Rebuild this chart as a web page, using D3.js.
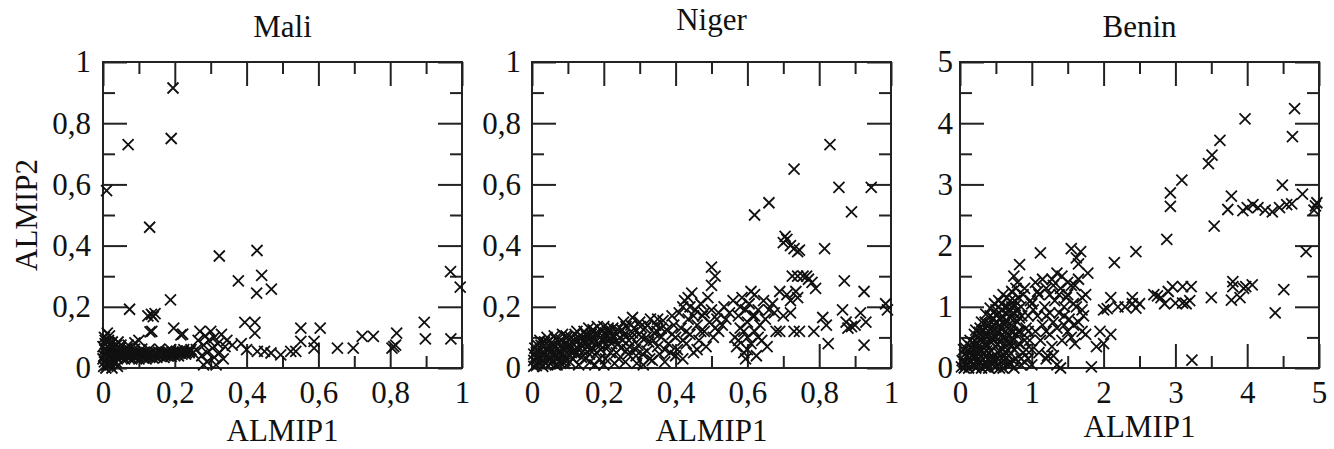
<!DOCTYPE html>
<html>
<head>
<meta charset="utf-8">
<script src="https://cdn.jsdelivr.net/npm/d3@7"></script>
<style>
  body { margin: 0; background: #fff; }
  svg text { font-family: "Liberation Serif", "DejaVu Serif", "Times New Roman", Times, serif; fill: #111; }
</style>
</head>
<body>
<div id="chart"></div>
<script>
// panel titles and axis labels
const titles = ["Mali", "Niger", "Benin"];
const xLabel = "ALMIP1";
const yLabel = "ALMIP2";

// tick values
const unitTicks = [0, 0.2, 0.4, 0.6, 0.8, 1];
const unitMinor = [0.1, 0.3, 0.5, 0.7, 0.9];
const beninTicks = [0, 1, 2, 3, 4, 5];
const beninMinor = [0.5, 1.5, 2.5, 3.5, 4.5];

// Mali points [ALMIP1, ALMIP2]
const maliPoints = [
  [0.195,0.915],[0.19,0.75],[0.07,0.73],[0.01,0.58],[0.13,0.46],[0.324,0.366],[0.429,0.384],
  [0.377,0.285],[0.442,0.303],[0.428,0.245],[0.469,0.258],[0.968,0.315],[0.995,0.264],
  [0.074,0.192],[0.188,0.223],[0.125,0.17],[0.135,0.175],[0.145,0.178],[0.14,0.168],
  [0.012,0.114],[0.136,0.12],[0.197,0.13],[0.222,0.111],[0.395,0.149],[0.423,0.149],
  [0.423,0.114],[0.551,0.13],[0.605,0.13],[0.895,0.149],[0.818,0.114],[0.753,0.103],
  [0.722,0.103],[0.898,0.095],[0.969,0.095],[0.697,0.065],[0.653,0.065],[0.81,0.07],
  [0.815,0.075],[0.805,0.065],[0.588,0.065],[0.551,0.087],[0.588,0.087],[0.537,0.054],
  [0.523,0.054],[0.495,0.043],[0.468,0.049],[0.43,0.054],[0.45,0.054],[0.40,0.06],
  [0.385,0.08],[0.36,0.075],[0.089,0.082],[0.131,0.118],[0.217,0.108],[0.07,0.075],[0.1,0.09],
  [0.002,0.005],[0.004,0.02],[0.003,0.04],[0.005,0.06],[0.006,0.08],[0.004,0.1],[0.01,0.01],
  [0.012,0.03],[0.014,0.05],[0.011,0.07],[0.018,0.02],[0.02,0.04],[0.022,0.06],[0.025,0.03],
  [0.028,0.05],[0.03,0.02],[0.032,0.04],[0.035,0.06],[0.015,0.09],[0.02,0.075],[0.008,0.0],
  [0.025,0.0],[0.016,0.012],[0.026,0.085],[0.038,0.075],[0.008,0.045],[0.018,0.105],
  [0.0,0.03],[0.0,0.07],[0.006,0.09],[0.01,0.055],[0.016,0.035],[0.024,0.045],[0.03,0.07],
  [0.038,0.05],[0.036,0.02],[0.042,0.085],[0.05,0.075],[0.04,0.005],[0.02,0.01],
  [0.04,0.03],[0.045,0.05],[0.05,0.035],[0.055,0.055],[0.06,0.03],[0.065,0.05],[0.07,0.035],
  [0.075,0.055],[0.08,0.03],[0.085,0.05],[0.09,0.035],[0.095,0.05],[0.1,0.03],[0.105,0.05],
  [0.11,0.035],[0.115,0.052],[0.12,0.03],[0.125,0.048],[0.13,0.035],[0.135,0.05],[0.14,0.032],
  [0.145,0.05],[0.15,0.035],[0.155,0.052],[0.16,0.038],[0.165,0.05],[0.17,0.035],[0.175,0.052],
  [0.18,0.04],[0.185,0.05],[0.19,0.038],[0.195,0.052],[0.2,0.04],[0.205,0.055],[0.21,0.04],
  [0.215,0.05],[0.22,0.045],[0.225,0.06],[0.23,0.045],[0.235,0.055],[0.24,0.05],[0.245,0.06],
  [0.25,0.05],
  [0.043,0.042],[0.052,0.045],[0.062,0.042],[0.072,0.045],[0.082,0.042],[0.092,0.045],
  [0.102,0.042],[0.112,0.045],[0.122,0.04],[0.132,0.045],[0.142,0.042],[0.152,0.045],
  [0.162,0.045],[0.172,0.045],[0.182,0.046],[0.192,0.046],[0.202,0.048],[0.212,0.048],
  [0.222,0.052],[0.232,0.05],[0.242,0.055],[0.048,0.065],[0.068,0.064],[0.088,0.062],
  [0.108,0.062],[0.128,0.06],[0.158,0.062],[0.188,0.06],
  [0.26,0.06],[0.265,0.09],[0.27,0.12],[0.275,0.04],[0.28,0.075],[0.285,0.105],[0.29,0.02],
  [0.29,0.05],[0.295,0.09],[0.3,0.12],[0.305,0.065],[0.31,0.035],[0.31,0.1],[0.315,0.01],
  [0.32,0.08],[0.325,0.05],[0.33,0.11],[0.335,0.03],[0.34,0.07],[0.345,0.09],[0.28,0.01]
];

// Niger points [ALMIP1, ALMIP2]
const nigerPoints = [
  [0.005,0.005],[0.005,0.025],[0.005,0.045],[0.008,0.065],[0.015,0.015],[0.018,0.035],[0.02,0.055],
  [0.025,0.075],[0.03,0.005],[0.032,0.025],[0.035,0.045],[0.04,0.065],[0.045,0.085],[0.05,0.015],
  [0.052,0.035],[0.055,0.055],[0.06,0.075],[0.065,0.095],[0.07,0.01],[0.072,0.03],[0.075,0.05],
  [0.078,0.07],[0.082,0.09],[0.088,0.04],[0.09,0.06],[0.095,0.08],[0.098,0.1],
  [0.105,0.02],[0.11,0.05],[0.112,0.07],[0.118,0.09],[0.12,0.11],[0.13,0.06],[0.135,0.08],
  [0.14,0.1],[0.145,0.12],[0.15,0.03],[0.155,0.07],[0.16,0.09],[0.165,0.11],[0.17,0.125],
  [0.175,0.01],[0.18,0.05],[0.185,0.08],[0.19,0.1],[0.195,0.12],[0.2,0.135],[0.205,0.03],
  [0.21,0.07],[0.215,0.095],[0.22,0.115],[0.225,0.13],[0.23,0.015],[0.235,0.05],[0.24,0.08],
  [0.245,0.1],[0.25,0.125],[0.13,0.01],[0.16,0.045],[0.2,0.01],
  [0.012,0.008],[0.012,0.05],[0.022,0.09],[0.028,0.04],[0.038,0.015],[0.042,0.1],[0.048,0.05],
  [0.058,0.02],[0.062,0.105],[0.068,0.045],[0.08,0.015],[0.085,0.11],[0.092,0.025],[0.1,0.045],
  [0.102,0.075],[0.108,0.1],[0.115,0.03],[0.122,0.045],[0.125,0.12],[0.128,0.09],[0.138,0.035],
  [0.142,0.055],[0.148,0.085],[0.152,0.105],[0.158,0.13],[0.162,0.02],[0.168,0.065],[0.172,0.095],
  [0.178,0.115],[0.182,0.135],[0.188,0.03],[0.192,0.06],[0.198,0.09],[0.208,0.11],[0.212,0.13],
  [0.218,0.05],[0.222,0.08],[0.228,0.1],[0.238,0.125],[0.242,0.03],[0.248,0.065],[0.252,0.09],
  [0.258,0.11],[0.262,0.135],[0.268,0.045],[0.272,0.07],[0.278,0.1],[0.285,0.13],[0.288,0.06],
  [0.292,0.015],[0.298,0.11],[0.302,0.135],[0.308,0.045],[0.318,0.1],[0.322,0.14],[0.328,0.03],
  [0.338,0.09],[0.348,0.12],
  [0.01,0.035],[0.015,0.075],[0.025,0.015],[0.035,0.085],[0.045,0.03],[0.05,0.07],[0.06,0.045],
  [0.065,0.01],[0.075,0.085],[0.08,0.055],[0.09,0.015],[0.095,0.105],[0.1,0.065],[0.11,0.085],
  [0.12,0.055],[0.13,0.1],[0.14,0.07],[0.15,0.11],[0.16,0.06],[0.17,0.085],[0.18,0.11],
  [0.19,0.075],[0.2,0.1],[0.21,0.12],[0.22,0.095],
  [0.26,0.02],[0.265,0.06],[0.27,0.09],[0.275,0.14],[0.28,0.115],[0.29,0.04],[0.295,0.075],
  [0.3,0.15],[0.305,0.1],[0.31,0.01],[0.315,0.13],[0.32,0.055],[0.325,0.085],[0.33,0.16],
  [0.335,0.025],[0.34,0.115],[0.345,0.14],[0.35,0.07],[0.355,0.045],[0.36,0.1],[0.365,0.155],
  [0.37,0.02],[0.375,0.125],[0.38,0.08],[0.385,0.05],[0.39,0.17],[0.395,0.14],[0.4,0.1],
  [0.28,0.165],[0.255,0.15],[0.36,0.13],[0.37,0.06],[0.39,0.11],[0.4,0.04],[0.35,0.16],
  [0.405,0.06],[0.41,0.18],[0.415,0.13],[0.42,0.03],[0.425,0.22],[0.43,0.08],[0.435,0.16],
  [0.44,0.11],[0.445,0.245],[0.45,0.05],[0.455,0.19],[0.46,0.14],[0.465,0.09],[0.47,0.21],
  [0.475,0.17],[0.48,0.12],[0.485,0.07],[0.49,0.23],[0.495,0.15],[0.5,0.19],[0.505,0.1],
  [0.51,0.13],[0.515,0.16],[0.52,0.18],[0.53,0.14],[0.535,0.2],[0.54,0.16],[0.55,0.18],
  [0.5,0.27],[0.5,0.33],[0.51,0.3],[0.435,0.23],[0.42,0.2],[0.43,0.12],[0.45,0.17],[0.47,0.12],
  [0.42,0.09],[0.44,0.2],[0.48,0.18],[0.52,0.12],[0.46,0.06],
  [0.56,0.22],[0.565,0.1],[0.57,0.07],[0.575,0.17],[0.58,0.13],[0.585,0.23],[0.59,0.05],
  [0.595,0.19],[0.6,0.1],[0.6,0.15],[0.605,0.21],[0.61,0.08],[0.615,0.17],[0.62,0.12],
  [0.62,0.24],[0.625,0.04],[0.63,0.19],[0.635,0.14],[0.64,0.09],[0.645,0.22],[0.65,0.16],
  [0.655,0.07],[0.66,0.19],[0.595,0.03],[0.575,0.09],[0.61,0.25],[0.59,0.12],[0.6,0.06],
  [0.63,0.1],[0.62,0.17],[0.58,0.2],
  [0.67,0.21],[0.675,0.18],[0.68,0.12],[0.69,0.25],[0.7,0.17],[0.71,0.24],[0.72,0.22],
  [0.73,0.12],[0.735,0.25],[0.72,0.18],[0.745,0.12],[0.74,0.23],[0.755,0.3],[0.725,0.3],
  [0.74,0.3],[0.765,0.3],[0.77,0.29],[0.78,0.28],[0.79,0.26],[0.785,0.12],[0.69,0.12],
  [0.7,0.41],[0.71,0.42],[0.72,0.4],[0.73,0.39],[0.74,0.38],[0.745,0.385],[0.705,0.43],
  [0.62,0.5],[0.66,0.54],[0.73,0.65],[0.83,0.73],[0.855,0.59],[0.945,0.59],[0.89,0.51],
  [0.815,0.39],
  [0.81,0.165],[0.82,0.14],[0.825,0.08],[0.87,0.285],[0.865,0.19],[0.875,0.15],[0.88,0.13],
  [0.89,0.135],[0.9,0.14],[0.915,0.18],[0.925,0.25],[0.93,0.15],[0.925,0.075],[0.985,0.21],
  [0.99,0.19]
];

// Benin points [ALMIP1, ALMIP2]
const beninPoints = [
  [0.02,0.02],[0.05,0.1],[0.08,0.05],[0.1,0.2],[0.12,0.0],[0.15,0.12],[0.18,0.3],[0.2,0.05],
  [0.22,0.2],[0.25,0.4],[0.28,0.1],[0.3,0.28],[0.32,0.5],[0.35,0.02],[0.36,0.18],[0.38,0.38],
  [0.4,0.6],[0.42,0.1],[0.44,0.28],[0.46,0.48],[0.48,0.7],[0.5,0.02],[0.47,0.12],[0.52,0.38],
  [0.54,0.58],[0.56,0.8],[0.58,0.1],[0.6,0.3],[0.6,0.5],[0.62,0.7],[0.64,0.9],[0.66,0.05],
  [0.68,0.2],[0.68,0.42],[0.7,0.62],[0.7,0.82],[0.72,1.0],[0.74,0.12],[0.76,0.3],[0.78,0.55],
  [0.8,0.75],[0.8,0.95],[0.82,1.15],[0.85,0.05],[0.88,0.25],[0.9,0.45],[0.92,0.65],[0.95,0.85],
  [0.15,0.35],[0.1,0.4],[0.05,0.3],[0.2,0.55],[0.28,0.65],[0.35,0.75],[0.42,0.85],[0.5,0.95],
  [0.58,1.05],[0.65,1.15],[0.72,1.25],[0.75,1.5],[0.8,1.4],[0.83,1.69],[0.55,0.28],[0.45,0.05],
  [0.25,0.25],[0.3,0.0],[0.6,0.0],[0.75,0.0],[0.9,0.1],[1.0,0.05],[0.62,0.2],[0.98,1.1],
  [0.03,0.12],[0.06,0.22],[0.08,0.32],[0.1,0.08],[0.12,0.28],[0.14,0.45],[0.16,0.2],[0.18,0.05],
  [0.2,0.38],[0.22,0.62],[0.24,0.12],[0.26,0.5],[0.28,0.32],[0.3,0.75],[0.32,0.15],[0.33,0.62],
  [0.34,0.38],[0.36,0.88],[0.38,0.05],[0.38,0.52],[0.4,0.25],[0.41,0.72],[0.42,0.98],[0.44,0.42],
  [0.45,0.6],[0.46,0.82],[0.48,1.05],[0.5,0.5],[0.5,0.75],[0.52,0.15],[0.52,0.88],[0.54,1.1],
  [0.56,0.42],[0.56,0.65],[0.58,0.95],[0.6,1.2],[0.62,0.4],[0.63,0.6],[0.64,0.78],[0.66,1.0],
  [0.66,0.3],[0.68,0.55],[0.7,1.1],[0.72,0.7],[0.74,0.45],[0.74,0.9],[0.76,1.1],[0.78,0.15],
  [0.78,1.3],[0.82,0.4],[0.84,0.6],[0.86,0.85],[0.88,1.2],[0.92,0.3],[0.95,0.15],[0.97,0.45],
  [0.06,0.0],[0.22,0.0],[0.4,0.0],[0.55,0.0],[0.7,0.05],[0.85,0.15],
  [0.12,0.15],[0.17,0.42],[0.23,0.32],[0.27,0.58],[0.29,0.18],[0.31,0.42],[0.34,0.55],[0.37,0.28],
  [0.39,0.68],[0.43,0.5],[0.45,0.18],[0.47,0.62],[0.49,0.35],[0.51,0.85],[0.53,0.25],[0.55,0.7],
  [0.57,0.52],[0.59,0.85],[0.61,0.12],[0.63,1.0],[0.65,0.48],[0.67,0.7],[0.69,0.92],[0.71,0.35],
  [0.73,0.58],[0.76,0.8],[0.77,1.02],[0.79,0.35],[0.81,0.6],[0.83,0.82],[0.2,0.15],[0.26,0.05],
  [0.33,0.25],[0.39,0.15],[0.64,0.25],[0.69,0.1],
  [1.0,0.3],[1.05,0.6],[1.08,0.85],[1.1,1.2],[1.12,1.88],[1.15,0.7],[1.18,1.0],[1.2,1.3],
  [1.22,0.2],[1.25,0.55],[1.28,1.45],[1.3,0.75],[1.32,1.1],[1.35,1.55],[1.38,0.9],[1.4,1.3],
  [1.42,0.45],[1.45,0.7],[1.48,1.15],[1.5,1.4],[1.52,0.8],[1.55,0.5],[1.58,1.05],[1.6,1.35],
  [1.62,1.8],[1.55,1.95],[1.65,0.75],[1.68,1.9],[1.7,1.15],[1.72,0.85],[1.75,0.55],[1.78,1.55],
  [1.6,0.4],[1.35,0.05],[1.2,0.6],[1.0,1.05],[0.95,0.6],[1.05,1.4],[1.25,0.9],[1.65,1.7],
  [1.7,0.95],[1.45,1.0],[0.9,1.3],[0.85,1.0],[1.3,0.2],[1.4,0.0],
  [1.02,0.95],[1.08,1.25],[1.12,0.45],[1.15,1.45],[1.2,0.85],[1.25,1.2],[1.28,0.35],[1.3,1.35],
  [1.35,0.65],[1.38,1.2],[1.42,1.5],[1.45,0.85],[1.5,1.2],[1.5,0.6],[1.55,1.35],[1.58,0.7],
  [1.62,1.0],[1.65,1.45],[1.7,0.6],[1.75,1.2],[1.1,0.25],[1.2,0.15],
  [1.83,0.02],[1.9,0.35],[1.95,0.6],[2.0,0.4],[2.05,0.97],[2.0,0.95],[2.1,0.55],[2.15,1.72],
  [2.1,1.15],[2.2,1.0],[2.3,1.0],[2.4,1.05],[2.45,1.9],[2.4,1.15],[2.45,0.98],[2.5,1.05],
  [2.7,1.2],[2.75,1.18],[2.8,1.15],[2.85,1.05],[2.88,2.1],[2.93,2.86],[2.93,2.64],[2.96,1.33],
  [3.0,1.06],[3.1,1.33],[3.1,1.06],[3.09,3.07],[3.15,1.05],[3.22,1.33],[3.2,1.1],[3.23,0.13],
  [2.9,1.25],
  [3.46,3.34],[3.51,3.48],[3.5,1.15],[3.54,2.32],[3.62,3.72],[3.73,2.59],[3.78,2.81],[3.8,1.41],
  [3.8,1.33],[3.78,1.11],[3.9,1.15],[3.95,1.3],[3.98,1.33],[4.07,1.36],[3.97,4.07],[3.94,2.57],
  [4.0,2.62],[4.08,2.67],[4.15,2.62],[4.25,2.58],[4.35,2.55],[4.45,2.62],[4.55,2.67],[4.62,2.68],
  [4.49,2.99],[4.39,0.9],[4.51,1.28],[4.63,3.78],[4.66,4.24],[4.77,2.84],[4.82,1.9],[4.95,2.65],
  [4.93,2.58],[4.97,2.7]
];

// layout of the three panels
const w = 1334;
const h = 449;
const plotTop = 62;
const plotW = 359;
const plotH = 306;
const majorLen = 24;
const minorLen = 12;
const fontSize = 31;
const fontFamily = '"Liberation Serif", "DejaVu Serif", "Times New Roman", Times, serif';

const panels = [
  { title: titles[0], data: maliPoints, max: 1, ticks: unitTicks, minor: unitMinor,
    left: 103, titleY: 37, xLabelY: 441, yGap: 12, showY: true },
  { title: titles[1], data: nigerPoints, max: 1, ticks: unitTicks, minor: unitMinor,
    left: 532, titleY: 30, xLabelY: 441, yGap: 11, showY: false },
  { title: titles[2], data: beninPoints, max: 5, ticks: beninTicks, minor: beninMinor,
    left: 960, titleY: 37, xLabelY: 437, yGap: 7, showY: false }
];

// numbers with a decimal comma
const fmt = d3.formatLocale({ decimal: ",", thousands: ".", grouping: [3], currency: ["", ""] }).format("~g");

const svg = d3.select("#chart")
  .append("svg")
  .attr("width", w)
  .attr("height", h);

svg.append("rect").attr("width", w).attr("height", h).attr("fill", "#fff");

panels.forEach(drawPanel);

function drawPanel(p) {
  const xScale = d3.scaleLinear().domain([0, p.max]).range([0, plotW]);
  const yScale = d3.scaleLinear().domain([0, p.max]).range([plotH, 0]);

  const g = svg.append("g").attr("transform", "translate(" + p.left + "," + plotTop + ")");

  // tick marks on all four sides, pointing inward
  const sides = [
    { make: (s) => d3.axisBottom(s), scale: xScale, pos: "translate(0," + plotH + ")", labels: true, vertical: false },
    { make: (s) => d3.axisTop(s), scale: xScale, pos: "translate(0,0)", labels: false, vertical: false },
    { make: (s) => d3.axisLeft(s), scale: yScale, pos: "translate(0,0)", labels: true, vertical: true },
    { make: (s) => d3.axisRight(s), scale: yScale, pos: "translate(" + plotW + ",0)", labels: false, vertical: true }
  ];

  sides.forEach((a) => {
    const major = a.make(a.scale)
      .tickValues(p.ticks)
      .tickSizeInner(-majorLen)
      .tickSizeOuter(0)
      .tickPadding(a.vertical ? p.yGap : 13)
      .tickFormat(a.labels ? fmt : "");
    const ga = g.append("g").attr("transform", a.pos).call(major)
      .attr("font-family", fontFamily)
      .attr("font-size", fontSize);
    ga.select(".domain").remove();

    const minorAxis = a.make(a.scale)
      .tickValues(p.minor)
      .tickSizeInner(-minorLen)
      .tickSizeOuter(0)
      .tickFormat("");
    const gm = g.append("g").attr("transform", a.pos).call(minorAxis);
    gm.select(".domain").remove();

    ga.selectAll(".tick text").attr("fill", "#111");
  });

  g.selectAll(".tick line").attr("stroke", "#222").attr("stroke-width", 2);

  // frame
  g.append("rect")
    .attr("width", plotW)
    .attr("height", plotH)
    .attr("fill", "none")
    .attr("stroke", "#222")
    .attr("stroke-width", 2);

  // cross markers
  g.selectAll("path.pt")
    .data(p.data)
    .enter()
    .append("path")
    .attr("class", "pt")
    .attr("transform", (d) => "translate(" + xScale(d[0]) + "," + yScale(d[1]) + ")")
    .attr("d", "M-5.5,-5.5L5.5,5.5M-5.5,5.5L5.5,-5.5")
    .attr("stroke", "#111")
    .attr("stroke-width", 1.8)
    .attr("fill", "none");

  // title
  svg.append("text")
    .attr("x", p.left + plotW / 2)
    .attr("y", p.titleY)
    .attr("text-anchor", "middle")
    .attr("font-family", fontFamily)
    .attr("font-size", fontSize)
    .text(p.title);

  // x label
  svg.append("text")
    .attr("x", p.left + plotW / 2)
    .attr("y", p.xLabelY)
    .attr("text-anchor", "middle")
    .attr("font-family", fontFamily)
    .attr("font-size", fontSize)
    .text(xLabel);

  // y label, first panel only
  if (p.showY) {
    svg.append("text")
      .attr("transform", "translate(" + 37 + "," + (plotTop + plotH / 2) + ") rotate(-90)")
      .attr("text-anchor", "middle")
      .attr("font-family", fontFamily)
      .attr("font-size", fontSize)
      .text(yLabel);
  }
}
</script>
</body>
</html>
